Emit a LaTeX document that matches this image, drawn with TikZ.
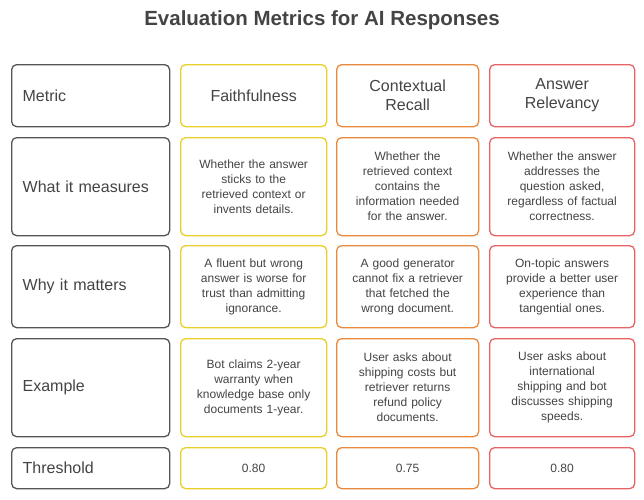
\documentclass[tikz,border=0pt]{standalone}
\usepackage{fontspec}
\setmainfont{Liberation Sans}
\usetikzlibrary{positioning}
\definecolor{txt}{HTML}{444444}
\definecolor{colA}{HTML}{555555}
\definecolor{colB}{HTML}{E8CF2A}
\definecolor{colC}{HTML}{E8893E}
\definecolor{colD}{HTML}{E86464}
\tikzset{
	cell/.style={draw=#1,line width=1.3pt,rounded corners=5pt,fill=white,text=txt,align=center,inner sep=2pt},
	lab/.style={cell=colA,align=left,font=\fontsize{16}{19}\selectfont},
	head/.style={cell=#1,font=\fontsize{16}{19}\selectfont},
	body/.style={cell=#1,font=\fontsize{12}{15}\selectfont}
}
% x0 y0 x1 y1 name style text
\newcommand{\cell}[7]{\node[#6,minimum width=#3-#1,minimum height=#4-#2,text width=#3-#1-22pt,anchor=north west] (#5) at (#1,#2) {#7};}
\begin{document}
\begin{tikzpicture}[x=1pt,y=-1pt]
	\useasboundingbox (0,0) rectangle (644,499);

%Titre
\node[font=\bfseries\fontsize{20.5}{24}\selectfont,text=txt] (title) at (322,20) {Evaluation Metrics for AI Responses};

%Lignes
\cell{11}{64}{169}{126}{m0}{lab}{Metric}
\cell{180}{64}{326}{126}{m1}{head=colB}{Faithfulness}
\cell{336}{64}{478}{126}{m2}{head=colC}{Contextual\\Recall}
\cell{489}{64}{634}{126}{m3}{head=colD}{Answer\\Relevancy}

\cell{11}{137}{169}{235}{w0}{lab}{What it measures}
\cell{180}{137}{326}{235}{w1}{body=colB}{Whether the answer\\sticks to the\\retrieved context or\\invents details.}
\cell{336}{137}{478}{235}{w2}{body=colC}{Whether the\\retrieved context\\contains the\\information needed\\for the answer.}
\cell{489}{137}{634}{235}{w3}{body=colD}{Whether the answer\\addresses the\\question asked,\\regardless of factual\\correctness.}

\cell{11}{245}{169}{327}{y0}{lab}{Why it matters}
\cell{180}{245}{326}{327}{y1}{body=colB}{A fluent but wrong\\answer is worse for\\trust than admitting\\ignorance.}
\cell{336}{245}{478}{327}{y2}{body=colC}{A good generator\\cannot fix a retriever\\that fetched the\\wrong document.}
\cell{489}{245}{634}{327}{y3}{body=colD}{On-topic answers\\provide a better user\\experience than\\tangential ones.}

\cell{11}{338}{169}{436}{e0}{lab}{Example}
\cell{180}{338}{326}{436}{e1}{body=colB}{Bot claims 2-year\\warranty when\\knowledge base only\\documents 1-year.}
\cell{336}{338}{478}{436}{e2}{body=colC}{User asks about\\shipping costs but\\retriever returns\\refund policy\\documents.}
\cell{489}{338}{634}{436}{e3}{body=colD}{User asks about\\international\\shipping and bot\\discusses shipping\\speeds.}

\cell{11}{447}{169}{488}{t0}{lab}{Threshold}
\cell{180}{447}{326}{488}{t1}{body=colB}{0.80}
\cell{336}{447}{478}{488}{t2}{body=colC}{0.75}
\cell{489}{447}{634}{488}{t3}{body=colD}{0.80}
\end{tikzpicture}
\end{document}
